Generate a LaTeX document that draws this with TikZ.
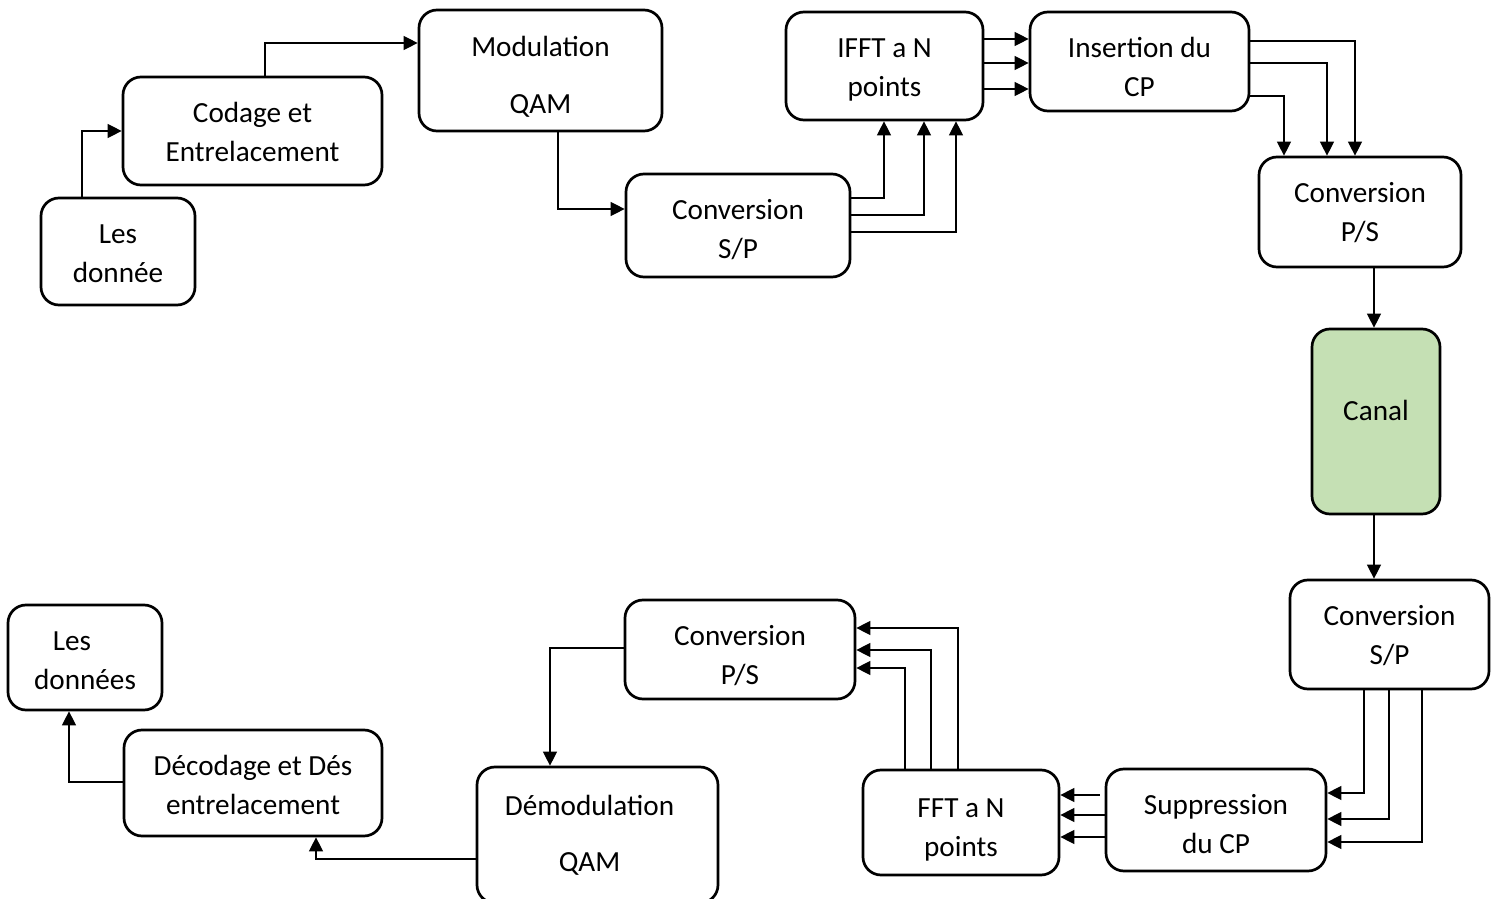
\documentclass[tikz,border=0pt]{standalone}
\usepackage{fontspec}
\setmainfont{Carlito}
\usetikzlibrary{arrows.meta}
\definecolor{canalgreen}{HTML}{C5E0B4}
\begin{document}
\begin{tikzpicture}[x=0.5pt,y=-0.5pt,
  box/.style={draw=black, line width=1.35pt, rounded corners=9pt, inner sep=0pt},
  lab/.style={align=center, inner sep=0pt, font=\fontsize{14.6}{19.5}\selectfont},
  arr/.style={draw=black, line width=0.65pt, -{Triangle[length=7pt,width=7pt]}}]
\clip (0,0) rectangle (1496,899);
\fill[white] (0,0) rectangle (1496,899);
% transmitter
\node[box, minimum width=77pt, minimum height=53.5pt,
  label={[lab, yshift=-1pt]center:{Les\\donnée}}] (donnee1) at (118,251.5) {};
\node[box, minimum width=129.5pt, minimum height=54pt,
  label={[lab, yshift=-0.5pt]center:{Codage et\\Entrelacement}}] (codage) at (252.5,131) {};
\node[box, minimum width=121.5pt, minimum height=60.5pt,
  label={[lab, yshift=-3pt]center:{Modulation\\[9pt]QAM}}] (modul) at (540.5,70.5) {};
\node[box, minimum width=112pt, minimum height=51.5pt,
  label={[lab, yshift=-2pt]center:{Conversion\\S/P}}] (sp1) at (738,225.5) {};
\node[box, minimum width=98.5pt, minimum height=54pt,
  label={[lab, yshift=-2pt]center:{IFFT a N\\points}}] (ifft) at (884.5,66) {};
\node[box, minimum width=109.5pt, minimum height=49.5pt,
  label={[lab, yshift=-2.7pt]center:{Insertion du\\CP}}] (ins) at (1139.5,61.5) {};
\node[box, minimum width=101pt, minimum height=55pt,
  label={[lab, yshift=-0.5pt]center:{Conversion\\P/S}}] (ps1) at (1360,212) {};
\node[box, fill=canalgreen, minimum width=64pt, minimum height=92.5pt,
  label={[lab, yshift=5.5pt]center:Canal}] (canal) at (1376,421.5) {};
% receiver
\node[box, minimum width=99.5pt, minimum height=54.5pt,
  label={[lab, yshift=-0.5pt]center:{Conversion\\S/P}}] (sp2) at (1389.5,634.5) {};
\node[box, minimum width=110pt, minimum height=51pt,
  label={[lab, yshift=-1.8pt]center:{Suppression\\du CP}}] (supp) at (1216,820) {};
\node[box, minimum width=98pt, minimum height=52.5pt,
  label={[lab, yshift=-3.5pt]center:{FFT a N\\points}}] (fft) at (961,822.5) {};
\node[box, minimum width=115pt, minimum height=49.5pt,
  label={[lab, yshift=-3pt]center:{Conversion\\P/S}}] (ps2) at (740,649.5) {};
\node[box, minimum width=120.5pt, minimum height=68pt,
  label={[lab, xshift=-4pt, yshift=0pt]center:{Démodulation\\[8.5pt]QAM}}] (demod) at (597.5,835) {};
\node[box, minimum width=129pt, minimum height=53pt,
  label={[lab, yshift=-1pt]center:{Décodage et Dés\\entrelacement}}] (decod) at (253,783) {};
\node[box, minimum width=77pt, minimum height=52.5pt,
  label={[lab, yshift=-1.8pt]center:{\hspace*{-13pt}Les\\données}}] (donnees) at (85,657.5) {};
% connectors
\draw[arr] (donnee1.north -| 82,0) |- (codage.west |- 0,131);
\draw[arr] (codage.north -| 265,0) |- (modul.west |- 0,43);
\draw[arr] (modul.south -| 558,0) |- (sp1.west |- 0,209);
\draw[arr] (sp1.east |- 0,198) -| (ifft.south -| 884,0);
\draw[arr] (sp1.east |- 0,215) -| (ifft.south -| 924,0);
\draw[arr] (sp1.east |- 0,232) -| (ifft.south -| 956,0);
\draw[arr] (ifft.east |- 0,39) -- (ins.west |- 0,39);
\draw[arr] (ifft.east |- 0,63) -- (ins.west |- 0,63);
\draw[arr] (ifft.east |- 0,89) -- (ins.west |- 0,89);
\draw[arr] (ins.east |- 0,41) -| (ps1.north -| 1355,0);
\draw[arr] (ins.east |- 0,63) -| (ps1.north -| 1327,0);
\draw[arr] (ins.east |- 0,96) -| (ps1.north -| 1284,0);
\draw[arr] (ps1.south -| 1374,0) -- (canal.north -| 1374,0);
\draw[arr] (canal.south -| 1374,0) -- (sp2.north -| 1374,0);
\draw[arr] (sp2.south -| 1364,0) |- (supp.east |- 0,793);
\draw[arr] (sp2.south -| 1389,0) |- (supp.east |- 0,819);
\draw[arr] (sp2.south -| 1422,0) |- (supp.east |- 0,842);
\draw[arr] ([xshift=-2.5pt]supp.west |- 0,795) -- (fft.east |- 0,795);
\draw[arr] (supp.west |- 0,815) -- (fft.east |- 0,815);
\draw[arr] (supp.west |- 0,837) -- (fft.east |- 0,837);
\draw[arr] (fft.north -| 905,0) |- (ps2.east |- 0,668);
\draw[arr] (fft.north -| 931,0) |- (ps2.east |- 0,650);
\draw[arr] (fft.north -| 958,0) |- (ps2.east |- 0,628);
\draw[arr] (ps2.west |- 0,648) -| (demod.north -| 550,0);
\draw[arr] (demod.west |- 0,859) -| (decod.south -| 316,0);
\draw[arr] (decod.west |- 0,782) -| (donnees.south -| 69,0);
\end{tikzpicture}
\end{document}
